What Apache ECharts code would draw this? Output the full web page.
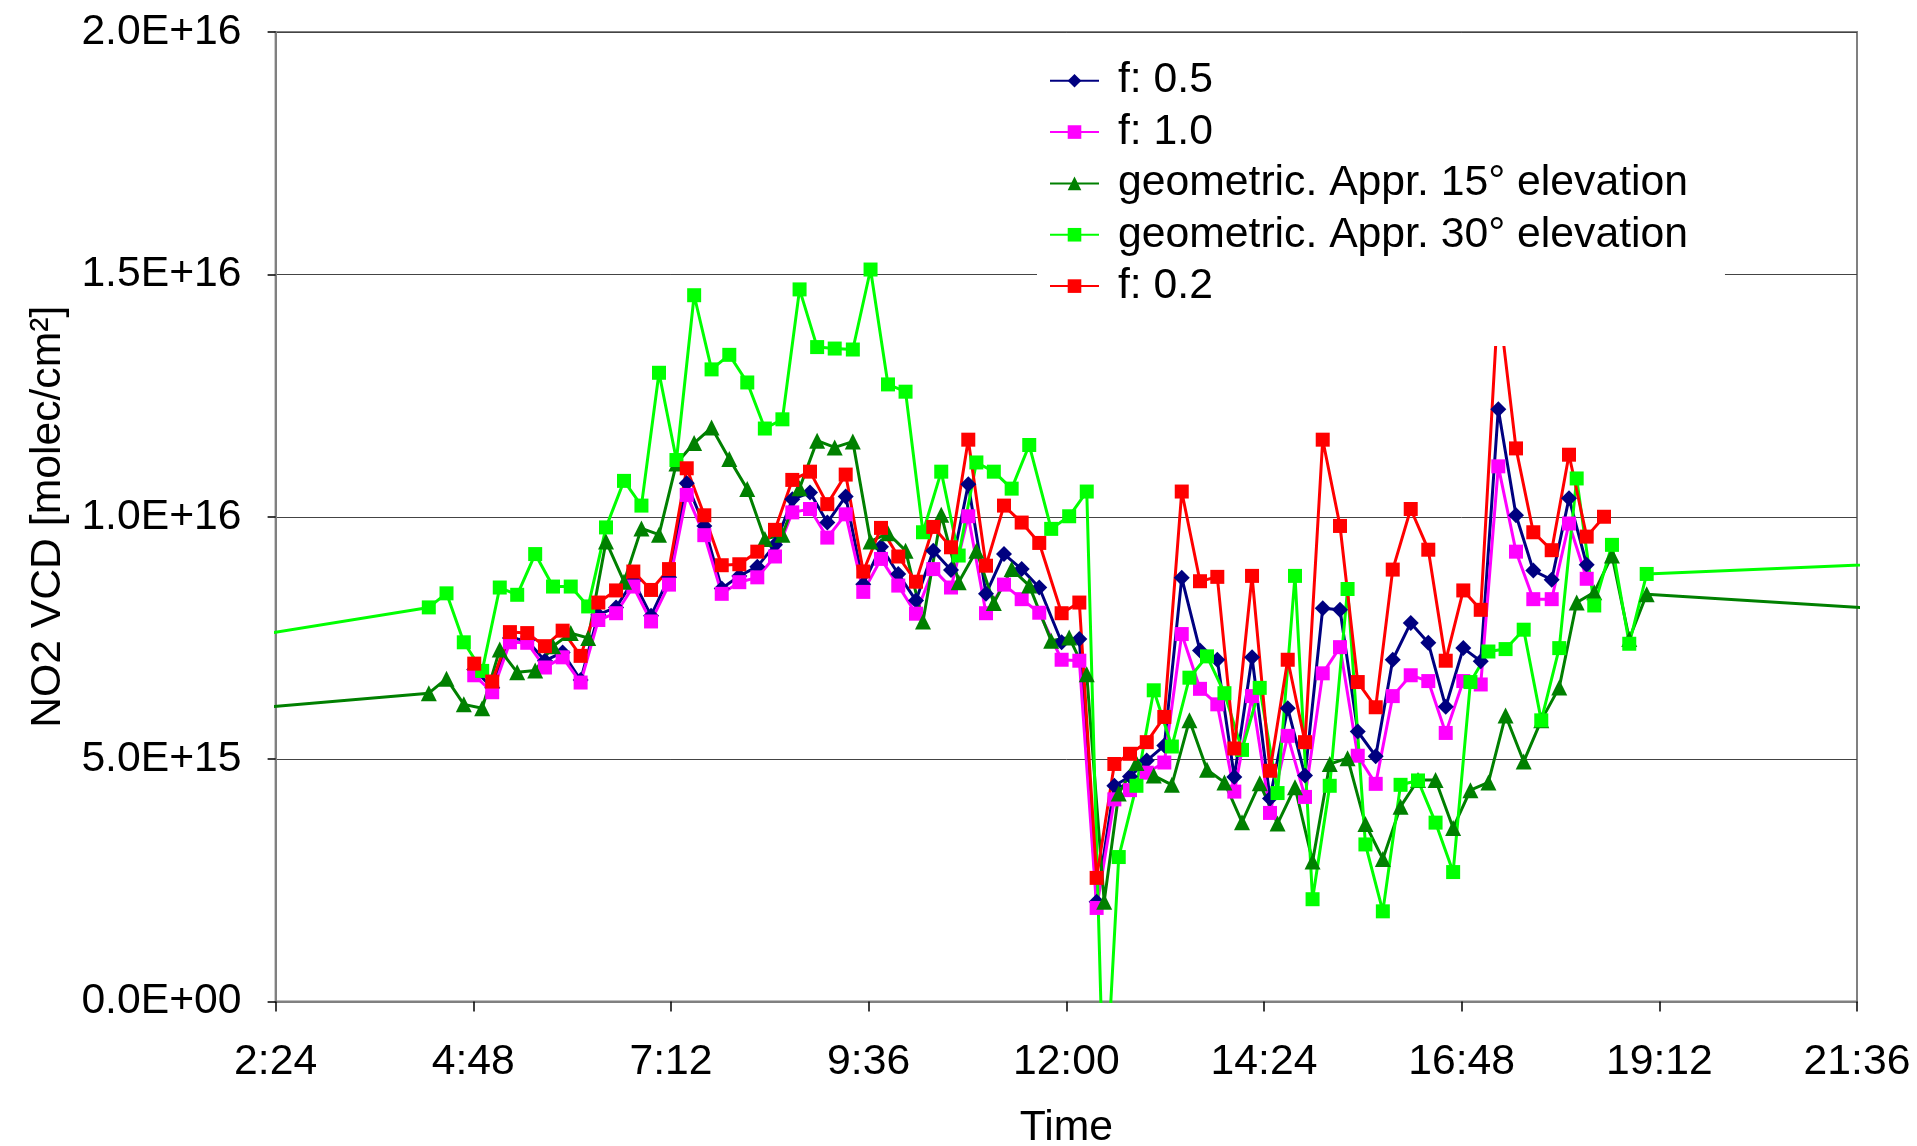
<!DOCTYPE html>
<html>
<head>
<meta charset="utf-8">
<script src="https://cdn.jsdelivr.net/npm/echarts@6/dist/echarts.min.js"></script>
<style>
html,body{margin:0;padding:0;background:#fff;}
#c{width:1917px;height:1146px;}
</style>
</head>
<body>
<div id="c"></div>
<script>
// Time in minutes after midnight; values in units of 1E15 molec/cm²
const xTickLabels = ['2:24','4:48','7:12','9:36','12:00','14:24','16:48','19:12','21:36'];
const yTickLabels = ['0.0E+00','5.0E+15','1.0E+16','1.5E+16','2.0E+16'];
const seriesNames = ['f: 0.5','f: 1.0','geometric. Appr. 15° elevation','geometric. Appr. 30° elevation','f: 0.2'];

// geometric approximation measurement times (first and last lie outside the shown range)
const geoTimes = [0, 255.6, 268.5, 281.1, 294.5, 307.3, 320.0, 333.1, 346.1, 359.0, 371.7, 384.7, 397.8, 410.5, 423.3,
  436.0, 448.9, 461.6, 474.5, 487.6, 500.4, 513.2, 525.7, 538.5, 551.3, 564.5, 577.4, 590.1, 602.9, 615.6, 628.9,
  641.6, 654.5, 667.2, 680.2, 693.0, 709.0, 722.1, 734.9, 747.6, 758.2, 771.1, 783.7, 796.9, 809.7, 822.5, 835.2,
  848.0, 860.9, 873.9, 886.6, 899.4, 911.9, 924.9, 937.9, 950.6, 963.5, 976.2, 989.0, 1001.8, 1014.4, 1027.5,
  1040.0, 1053.2, 1066.0, 1079.1, 1091.8, 1104.6, 1117.5, 1130.1, 1142.8, 1440];
const g15Values = [5.74, 6.36, 6.66, 6.13, 6.05, 7.26, 6.79, 6.83, 7.33, 7.6, 7.5, 9.49, 8.66, 9.76, 9.63, 11.1,
  11.52, 11.84, 11.19, 10.57, 9.54, 9.63, 10.59, 11.57, 11.43, 11.55, 9.49, 9.66, 9.30, 7.84, 10.04, 8.65, 9.30,
  8.22, 8.92, 8.58, 7.44, 7.51, 6.75, 2.06, 4.29, 4.92, 4.66, 4.47, 5.80, 4.78, 4.52, 3.70, 4.50, 3.67, 4.42,
  2.89, 4.90, 5.02, 3.66, 2.94, 4.02, 4.57, 4.57, 3.58, 4.36, 4.52, 5.90, 4.95, 5.80, 6.48, 8.23, 8.44, 9.20,
  7.48, 8.40, 7.88];
const g30Values = [6.96, 8.13, 8.42, 7.41, 6.82, 8.54, 8.39, 9.23, 8.56, 8.56, 8.15, 9.78, 10.74, 10.23, 12.97,
  11.17, 14.57, 13.04, 13.34, 12.77, 11.82, 12.01, 14.69, 13.50, 13.47, 13.45, 15.10, 12.73, 12.58, 9.68, 10.93,
  9.20, 11.12, 10.93, 10.58, 11.48, 9.75, 10.01, 10.52, -2.5, 2.98, 4.45, 6.42, 5.26, 6.68, 7.12, 6.36, 5.19,
  6.47, 4.30, 8.78, 2.11, 4.45, 8.51, 3.24, 1.86, 4.47, 4.56, 3.69, 2.67, 6.59, 7.22, 7.27, 7.67, 5.80, 7.29,
  10.79, 8.17, 9.42, 7.38, 8.82, 9.17];

// f-parameter measurement times
const fTimes = [288.7, 301.8, 314.7, 327.3, 340.2, 353.1, 366.2, 379.1, 392.0, 404.6, 417.5, 430.6, 443.5, 456.3,
  469.0, 481.8, 494.9, 507.8, 520.4, 533.3, 545.9, 559.3, 572.1, 585.0, 597.6, 610.5, 623.1, 636.0, 648.6, 661.5,
  674.6, 687.5, 700.3, 716.6, 729.5, 742.1, 755.0, 766.4, 778.6, 791.4, 804.1, 817.4, 830.0, 842.4, 855.3, 868.4,
  881.3, 893.9, 906.8, 919.4, 932.3, 945.4, 957.8, 970.9, 983.7, 996.4, 1009.2, 1021.9, 1034.7, 1047.6, 1060.2,
  1073.6, 1086.2, 1099.1, 1111.7];
const f02Values = [6.97, 6.60, 7.62, 7.6, 7.33, 7.65, 7.13, 8.23, 8.48, 8.87, 8.49, 8.92, 11.0, 10.03, 9.0, 9.02,
  9.28, 9.73, 10.76, 10.93, 10.26, 10.87, 8.87, 9.77, 9.18, 8.66, 9.79, 9.37, 11.59, 8.99, 10.23, 9.88, 9.46,
  8.01, 8.23, 2.55, 4.90, 5.11, 5.35, 5.87, 10.52, 8.67, 8.76, 5.22, 8.78, 4.76, 7.05, 5.35, 11.59, 9.81, 6.59,
  6.07, 8.91, 10.16, 9.32, 7.03, 8.48, 8.08, 14.5, 11.41, 9.68, 9.31, 11.28, 9.59, 10.0];
const f05Values = [6.85, 6.47, 7.5, 7.45, 7.03, 7.20, 6.63, 7.98, 8.13, 8.68, 7.96, 8.75, 10.69, 9.81, 8.52, 8.78,
  8.97, 9.42, 10.36, 10.50, 9.88, 10.42, 8.61, 9.38, 8.82, 8.27, 9.30, 8.90, 10.67, 8.41, 9.23, 8.92, 8.54, 7.41,
  7.48, 2.06, 4.45, 4.64, 4.97, 5.28, 8.74, 7.24, 7.05, 4.63, 7.10, 4.19, 6.05, 4.66, 8.11, 8.08, 5.57, 5.06,
  7.05, 7.81, 7.40, 6.08, 7.29, 7.02, 12.22, 10.03, 8.89, 8.70, 10.38, 9.01];
const f10Values = [6.73, 6.38, 7.41, 7.40, 6.89, 7.10, 6.58, 7.87, 8.01, 8.56, 7.84, 8.60, 10.45, 9.62, 8.41, 8.65,
  8.75, 9.18, 10.09, 10.16, 9.57, 10.05, 8.45, 9.13, 8.58, 8.0, 8.92, 8.54, 10.01, 8.01, 8.60, 8.30, 8.02, 7.05,
  7.03, 1.93, 4.17, 4.36, 4.72, 4.93, 7.58, 6.45, 6.13, 4.33, 6.30, 3.89, 5.48, 4.22, 6.77, 7.31, 5.07, 4.49,
  6.30, 6.73, 6.61, 5.54, 6.61, 6.54, 11.04, 9.28, 8.30, 8.30, 9.86, 8.72];

const FONT = '"Liberation Sans", Arial, Helvetica, sans-serif';
const FS = 42.7;
const pairs = (times, vals) => vals.map((v, i) => [times[i], v]);

function mkSeries(name, times, vals, color, symbol, size) {
  return {
    name: name, type: 'line', data: pairs(times, vals),
    symbol: symbol, symbolSize: size, showAllSymbol: true, clip: true,
    lineStyle: { color: color, width: 3 },
    itemStyle: { color: color, borderWidth: 0 },
    emphasis: { disabled: true }, silent: true, animation: false
  };
}

const chart = echarts.init(document.getElementById('c'), null, { renderer: 'canvas' });
chart.setOption({
  animation: false,
  backgroundColor: '#ffffff',
  textStyle: { fontFamily: FONT },
  grid: { left: 275.6, right: 60, top: 32, bottom: 144.5, show: true, containLabel: false,
          outerBoundsMode: 'none',
          borderColor: '#808080', borderWidth: 2, backgroundColor: 'transparent' },
  xAxis: {
    type: 'value', min: 144, max: 1296, interval: 144,
    axisLine: { show: true, onZero: false, lineStyle: { color: '#808080', width: 2 } },
    axisTick: { show: true, length: 10, lineStyle: { color: '#000', width: 1.5 } },
    axisLabel: { fontSize: FS, color: '#000', fontFamily: FONT, margin: 39,
                 formatter: v => xTickLabels[Math.round((v - 144) / 144)] },
    splitLine: { show: false },
    name: 'Time', nameLocation: 'middle', nameGap: 105,
    nameTextStyle: { fontSize: FS, color: '#000', fontFamily: FONT }
  },
  yAxis: {
    type: 'value', min: 0, max: 20, interval: 5,
    axisLine: { show: true, lineStyle: { color: '#808080', width: 2 } },
    axisTick: { show: true, length: 8, lineStyle: { color: '#000', width: 1.5 } },
    axisLabel: { fontSize: FS, color: '#000', fontFamily: FONT, margin: 34,
                 formatter: v => yTickLabels[Math.round(v / 5)] },
    splitLine: { show: true, lineStyle: { color: '#444', width: 1 } },
    name: 'NO2 VCD [molec/cm²]', nameLocation: 'middle', nameGap: 206,
    nameTextStyle: { fontSize: FS, color: '#000', fontFamily: FONT }
  },
  legend: {
    orient: 'vertical', left: 1037, top: 51.5,
    padding: [7.7, 37, 38.5, 12],
    backgroundColor: '#ffffff',
    itemWidth: 49, itemHeight: 17, itemGap: 8.35,
    textStyle: { fontSize: FS, color: '#000', fontFamily: FONT, lineHeight: 43, padding: [0, 0, 0, 14] },
    data: seriesNames,
    selectedMode: false
  },
  series: [
    mkSeries(seriesNames[0], fTimes, f05Values, '#000080', 'diamond', 16),
    mkSeries(seriesNames[1], fTimes, f10Values, '#ff00ff', 'rect', 14),
    mkSeries(seriesNames[2], geoTimes, g15Values, '#008000', 'triangle', 16),
    mkSeries(seriesNames[3], geoTimes, g30Values, '#00ff00', 'rect', 14),
    mkSeries(seriesNames[4], fTimes, f02Values, '#ff0000', 'rect', 14)
  ]
});
</script>
</body>
</html>
